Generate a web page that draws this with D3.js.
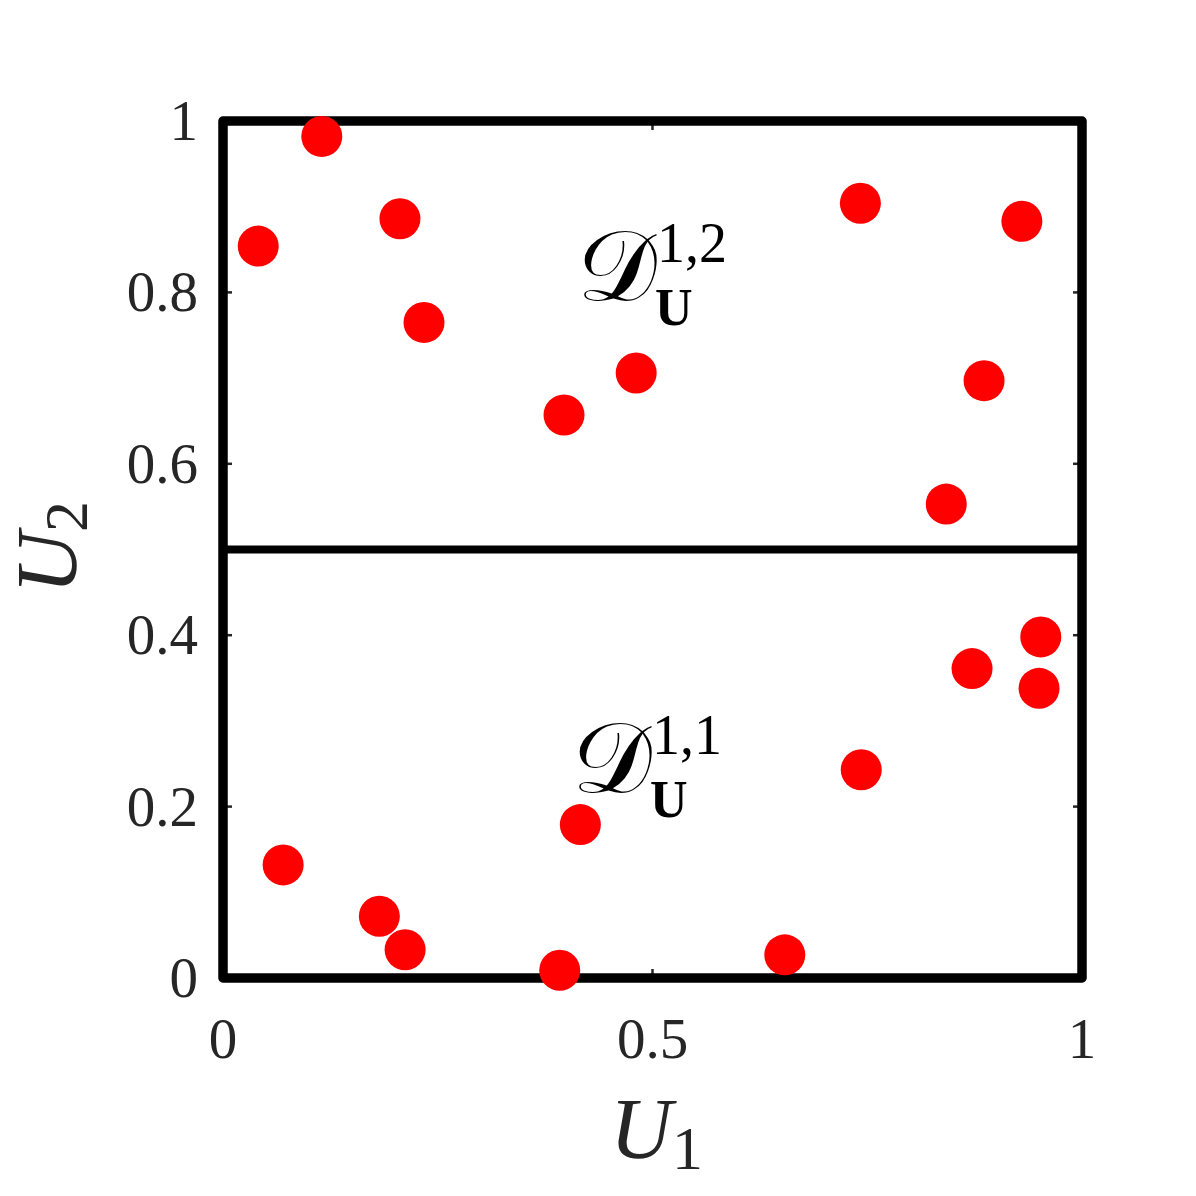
<!DOCTYPE html>
<html>
<head>
<meta charset="utf-8">
<script src="https://cdn.jsdelivr.net/npm/d3@7"></script>
<style>
  body { margin: 0; background: #fff; }
  text { font-family: "Liberation Serif", "DejaVu Serif", serif; fill: #262626; }
</style>
</head>
<body>
<div id="chart"></div>
<script>
// values
let u1 = [0.115, 0.041, 0.206, 0.234, 0.397, 0.481, 0.742, 0.930, 0.886, 0.842,
          0.952, 0.872, 0.950, 0.743, 0.416, 0.070, 0.182, 0.212, 0.392, 0.654];
let u2 = [0.982, 0.854, 0.886, 0.765, 0.657, 0.706, 0.904, 0.883, 0.697, 0.553,
          0.398, 0.361, 0.338, 0.243, 0.179, 0.132, 0.072, 0.033, 0.009, 0.027];
let xTicks = [0, 0.5, 1];
let xTickLabels = ["0", "0.5", "1"];
let yTicks = [0, 0.2, 0.4, 0.6, 0.8, 1];
let yTickLabels = ["0", "0.2", "0.4", "0.6", "0.8", "1"];
let split = 0.5;
let regionSup = ["1,2", "1,1"];

let width = 1196, height = 1196;
let plotLeft = 223, plotRight = 1082, plotTop = 121, plotBottom = 978;

let svg = d3.select("#chart").append("svg")
  .attr("width", width)
  .attr("height", height);

let x = d3.scaleLinear().domain([0, 1]).range([plotLeft, plotRight]);
let y = d3.scaleLinear().domain([0, 1]).range([plotBottom, plotTop]);

// inner ticks on all four sides
let tickLen = 9;
let tickGroup = svg.append("g").attr("stroke", "#262626").attr("stroke-width", 2.5);
xTicks.forEach(t => {
  tickGroup.append("line").attr("x1", x(t)).attr("x2", x(t)).attr("y1", y(0)).attr("y2", y(0) - tickLen);
  tickGroup.append("line").attr("x1", x(t)).attr("x2", x(t)).attr("y1", y(1)).attr("y2", y(1) + tickLen);
});
yTicks.forEach(t => {
  tickGroup.append("line").attr("y1", y(t)).attr("y2", y(t)).attr("x1", x(0)).attr("x2", x(0) + tickLen);
  tickGroup.append("line").attr("y1", y(t)).attr("y2", y(t)).attr("x1", x(1)).attr("x2", x(1) - tickLen);
});

// frame
svg.append("rect")
  .attr("x", x(0)).attr("y", y(1))
  .attr("width", x(1) - x(0)).attr("height", y(0) - y(1))
  .attr("fill", "none")
  .attr("stroke", "#000")
  .attr("stroke-width", 9.5)
  .attr("stroke-linejoin", "round");

// split line
svg.append("line")
  .attr("x1", x(0)).attr("x2", x(1))
  .attr("y1", y(split)).attr("y2", y(split))
  .attr("stroke", "#000")
  .attr("stroke-width", 8);

// tick labels
svg.selectAll(".xlab").data(xTicks).enter()
  .append("text")
  .attr("x", d => x(d))
  .attr("y", 1058)
  .attr("text-anchor", "middle")
  .style("font-size", "57px")
  .text((d, i) => xTickLabels[i]);

svg.selectAll(".ylab").data(yTicks).enter()
  .append("text")
  .attr("x", 198)
  .attr("y", d => y(d) + 19)
  .attr("text-anchor", "end")
  .style("font-size", "57px")
  .text((d, i) => yTickLabels[i]);

// axis titles
let xt = svg.append("text")
  .attr("x", 610).attr("y", 1158)
  .style("font-size", "86px");
xt.append("tspan").style("font-style", "italic").text("U");
xt.append("tspan").attr("dy", 11).style("font-size", "62px").text("1");

let yt = svg.append("text")
  .attr("transform", "translate(76,594) rotate(-90)")
  .style("font-size", "86px");
yt.append("tspan").style("font-style", "italic").text("U");
yt.append("tspan").attr("dy", 11).style("font-size", "62px").text("2");

// points
svg.selectAll(".pt").data(u1).enter()
  .append("circle")
  .attr("cx", d => x(d))
  .attr("cy", (d, i) => y(u2[i]))
  .attr("r", 20.5)
  .attr("fill", "#ff0000");

// region labels, one per half of the split
let labelPos = [{ x: 577, y: 300 }, { x: 572, y: 792 }];
regionSup.forEach((s, i) => {
  let p = labelPos[i];
  svg.append("text")
    .attr("x", p.x).attr("y", p.y)
    .style("font-size", "100px")
    .style("fill", "#000")
    .text("𝒟");
  svg.append("text")
    .attr("x", p.x + 80).attr("y", p.y - 38)
    .style("font-size", "56px")
    .style("fill", "#000")
    .text(s);
  svg.append("text")
    .attr("x", p.x + 78).attr("y", p.y + 25)
    .style("font-size", "52px")
    .style("font-weight", "bold")
    .style("fill", "#000")
    .text("U");
});
</script>
</body>
</html>
